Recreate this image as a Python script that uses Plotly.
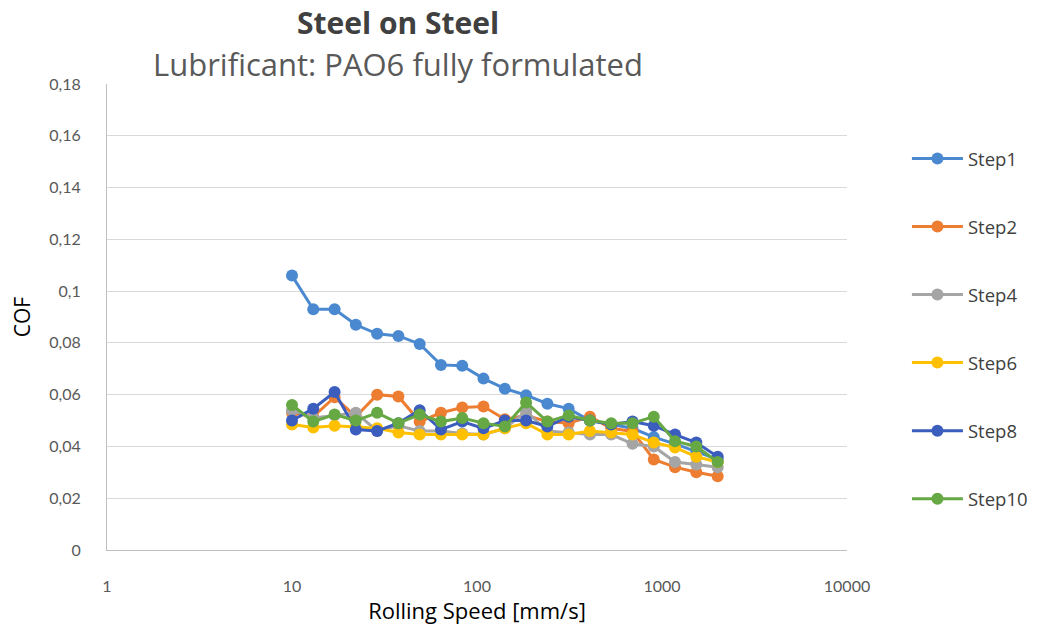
import plotly.graph_objects as go

speed = [10, 13.03, 16.99, 22.13, 28.85, 37.59, 48.99, 63.85, 83.21, 108.4, 141.4,
         184.2, 240.1, 312.9, 407.8, 531.4, 692.6, 902.6, 1176, 1533, 2000]

step1 = [0.106, 0.093, 0.093, 0.087, 0.0835, 0.0827, 0.0796, 0.0715, 0.0712, 0.0662, 0.0623,
         0.0598, 0.0565, 0.0546, 0.050, 0.0485, 0.047, 0.0436, 0.041, 0.038, 0.035]
step2 = [0.053, 0.0515, 0.059, 0.0515, 0.060, 0.0593, 0.0496, 0.053, 0.055, 0.0554, 0.0505,
         0.052, 0.0496, 0.049, 0.0515, 0.047, 0.0458, 0.035, 0.032, 0.030, 0.0285]
step4 = [0.054, 0.051, 0.052, 0.053, 0.046, 0.048, 0.046, 0.046, 0.045, 0.0446, 0.047,
         0.0535, 0.046, 0.0454, 0.0446, 0.0446, 0.041, 0.040, 0.034, 0.033, 0.032]
step6 = [0.0485, 0.0473, 0.048, 0.0475, 0.047, 0.0454, 0.0446, 0.0446, 0.0446, 0.0446, 0.047,
         0.049, 0.0446, 0.0446, 0.046, 0.0454, 0.0446, 0.0415, 0.0396, 0.036, 0.034]
step8 = [0.050, 0.0546, 0.061, 0.0465, 0.046, 0.049, 0.054, 0.0465, 0.0496, 0.047, 0.050,
         0.050, 0.0477, 0.0515, 0.050, 0.0485, 0.0496, 0.048, 0.0446, 0.0415, 0.036]
step10 = [0.056, 0.0496, 0.0523, 0.050, 0.053, 0.049, 0.0523, 0.0496, 0.051, 0.049, 0.0477,
          0.057, 0.0496, 0.052, 0.050, 0.049, 0.049, 0.0515, 0.042, 0.040, 0.034]

series_names = ["Step1", "Step2", "Step4", "Step6", "Step8", "Step10"]
series_values = [step1, step2, step4, step6, step8, step10]
colors = ["#4A89D0", "#ED7D31", "#A5A5A5", "#FFC000", "#3A5DBE", "#66A843"]

x_tickvals = [1, 10, 100, 1000, 10000]
x_ticktext = ["1", "10", "100", "1000", "10000"]

FONT = "Open Sans"
TICKFONT = "Lato"

fig = go.Figure()
for name, vals, col in zip(series_names, series_values, colors):
    fig.add_trace(go.Scatter(
        x=speed, y=vals, name=name, mode="lines+markers",
        line=dict(color=col, width=3),
        marker=dict(color=col, size=12),
        legendgroup=name,
    ))

fig.update_layout(
    width=1037, height=633,
    margin=dict(l=107, r=190, t=84, b=83, autoexpand=False),
    plot_bgcolor="white", paper_bgcolor="white",
    separators=", ",
    font=dict(family=FONT, color="#595959", size=16),
    showlegend=True,
    legend=dict(
        x=1.081, y=0.88, xanchor="left", yanchor="top",
        font=dict(family=FONT, size=18.5, color="#404040"),
        tracegroupgap=41, itemwidth=51,
        bgcolor="rgba(0,0,0,0)",
    ),
    xaxis=dict(
        type="log", range=[0, 4],
        tickvals=x_tickvals, ticktext=x_ticktext,
        showgrid=False, zeroline=False,
        showline=True, linecolor="#BFBFBF", linewidth=1,
        ticks="outside", ticklen=22, tickcolor="rgba(0,0,0,0)",
        tickfont=dict(family=TICKFONT, size=16, color="#595959"),
        title=dict(text="Rolling Speed [mm/s]", font=dict(family=FONT, size=22, color="#000000"), standoff=9),
    ),
    yaxis=dict(
        range=[0, 0.18], dtick=0.02, tick0=0,
        showgrid=True, gridcolor="#D9D9D9", gridwidth=1,
        zeroline=False,
        showline=True, linecolor="#BFBFBF", linewidth=1,
        ticks="outside", ticklen=22, tickcolor="rgba(0,0,0,0)",
        tickfont=dict(family=TICKFONT, size=16, color="#595959"),
        title=dict(text="COF", font=dict(family=FONT, size=21, color="#000000"), standoff=12),
    ),
    annotations=[
        dict(text="<b>Steel on Steel</b>", xref="paper", yref="paper",
             x=0.393, y=1.133, xanchor="center", yanchor="middle", showarrow=False,
             font=dict(family=FONT, size=30, color="#404040")),
        dict(text="Lubrificant: PAO6 fully formulated", xref="paper", yref="paper",
             x=0.393, y=1.042, xanchor="center", yanchor="middle", showarrow=False,
             font=dict(family=FONT, size=31, color="#595959")),
    ],
)

fig.write_html("out.html")
